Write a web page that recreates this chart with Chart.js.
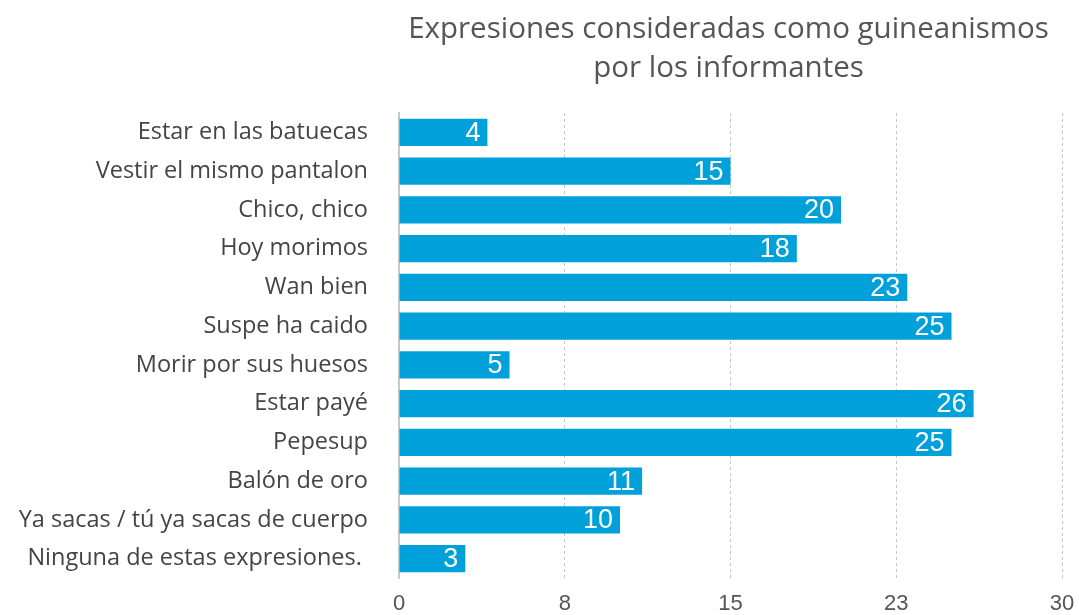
<!DOCTYPE html>
<html>
<head>
<meta charset="utf-8">
<script src="https://cdn.jsdelivr.net/npm/chart.js@4.4.1/dist/chart.umd.min.js"></script>
<style>
  html, body { margin: 0; padding: 0; background: #fff; }
  #wrap { width: 1079px; height: 615px; }
</style>
</head>
<body>
<div id="wrap"><canvas id="grafico"></canvas></div>
<script>
// Datos
var categorias = [
    'Estar en las batuecas',
    'Vestir el mismo pantalon',
    'Chico, chico',
    'Hoy morimos',
    'Wan bien',
    'Suspe ha caido',
    'Morir por sus huesos',
    'Estar payé',
    'Pepesup',
    'Balón de oro',
    'Ya sacas / tú ya sacas de cuerpo',
    'Ninguna de estas expresiones. '
];
var valores = [4, 15, 20, 18, 23, 25, 5, 26, 25, 11, 10, 3];
var etiquetasX = ['0', '8', '15', '23', '30'];
var titulo = ['Expresiones consideradas como guineanismos', 'por los informantes'];

// Título centrado sobre el área del gráfico
var pluginTitulo = {
    id: 'tituloCentrado',
    afterDraw: function (chart) {
        var ctx = chart.ctx;
        var area = chart.chartArea;
        var cx = (area.left + area.right) / 2;
        ctx.save();
        ctx.fillStyle = '#555';
        ctx.font = '29.5px "Open Sans", sans-serif';
        ctx.textAlign = 'center';
        ctx.textBaseline = 'middle';
        ctx.fillText(titulo[0], cx - 2, 30);
        ctx.fillText(titulo[1], cx - 2, 69);
        ctx.restore();
    }
};

// Valores dentro de las barras
var pluginValores = {
    id: 'valoresBarras',
    afterDatasetsDraw: function (chart) {
        var ctx = chart.ctx;
        var meta = chart.getDatasetMeta(0);
        ctx.save();
        ctx.fillStyle = '#fff';
        ctx.font = '27px "Liberation Sans", Arial, sans-serif';
        ctx.textAlign = 'right';
        ctx.textBaseline = 'middle';
        meta.data.forEach(function (bar, i) {
            ctx.fillText(String(valores[i]), bar.x - 7, bar.y + 1);
        });
        ctx.restore();
    }
};

var data = {
    labels: categorias,
    datasets: [{
        label: 'Informantes',
        data: valores,
        backgroundColor: '#00a0da',
        borderWidth: 0,
        barPercentage: 0.7,
        categoryPercentage: 1
    }]
};

var options = {
    indexAxis: 'y',
    responsive: false,
    animation: false,
    layout: {
        padding: { top: 113, right: 17, bottom: 0, left: 0 }
    },
    plugins: {
        legend: { display: false },
        tooltip: { enabled: false }
    },
    scales: {
        x: {
            min: 0,
            max: 30,
            afterBuildTicks: function (axis) {
                axis.ticks = [0, 7.5, 15, 22.5, 30].map(v => ({ value: v }));
            },
            afterFit: function (axis) {
                axis.height = 37;
                axis.paddingLeft = 0;
                axis.paddingRight = 0;
            },
            grid: {
                color: ctx => ctx.tick && ctx.tick.value === 0 ? 'rgba(0,0,0,0)' : '#c4c4c4',
                lineWidth: 1,
                drawTicks: false
            },
            border: { display: false, dash: [3, 3] },
            ticks: {
                padding: 15,
                color: '#555',
                font: { family: '"Liberation Sans", Arial, sans-serif', size: 22, lineHeight: 1 },
                callback: function (v, i) { return etiquetasX[i]; }
            }
        },
        y: {
            afterFit: function (axis) {
                axis.width = 399;
                axis.paddingTop = 0;
                axis.paddingBottom = 0;
            },
            grid: { display: false, drawTicks: false },
            border: { display: true, color: '#c8c8c8', width: 2 },
            ticks: {
                padding: 31,
                color: '#444',
                font: { family: '"Open Sans", sans-serif', size: 23.5 }
            }
        }
    }
};

var canvas = document.getElementById('grafico');
canvas.width = 1079;
canvas.height = 615;
new Chart(canvas.getContext('2d'), {
    type: 'bar',
    data: data,
    options: options,
    plugins: [pluginTitulo, pluginValores]
});
</script>
</body>
</html>
